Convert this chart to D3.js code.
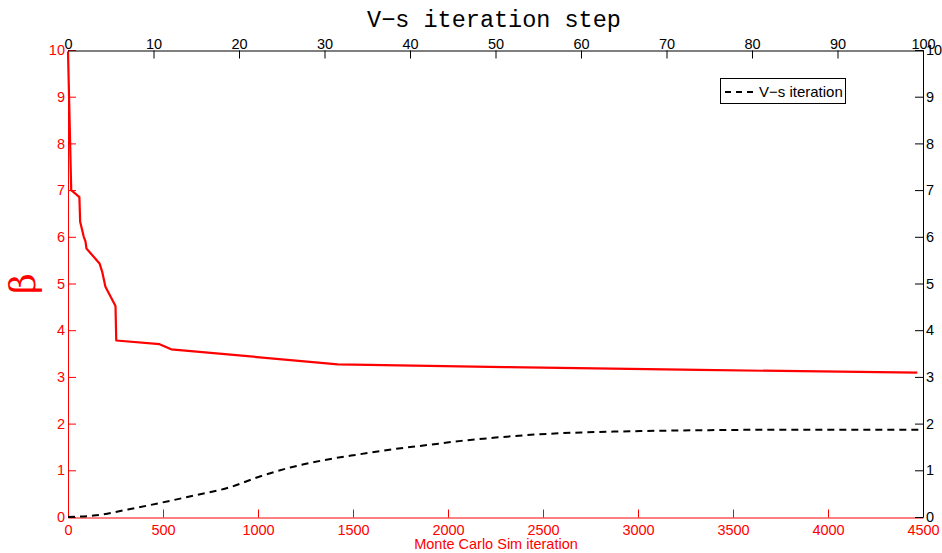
<!DOCTYPE html>
<html>
<head>
<meta charset="utf-8">
<script src="https://cdn.jsdelivr.net/npm/d3@7"></script>
<style>
  html, body { margin: 0; padding: 0; background: #fff; }
  svg { display: block; }
  text { font-family: "Liberation Sans", Arial, sans-serif; }
</style>
</head>
<body>
<svg id="chart" width="942" height="553"></svg>
<script>
// ---- data ----
const mcIter = [0, 17, 60, 64, 83, 92, 97, 166, 180, 197, 250, 254, 482, 543, 1420, 2300, 3320, 4470];
const betaMC = [9.97, 7.0, 6.85, 6.32, 6.0, 5.9, 5.75, 5.43, 5.25, 4.93, 4.52, 3.78, 3.70, 3.59, 3.27, 3.21, 3.15, 3.09];

const vsStep = [0, 3, 7, 11, 15, 19, 22, 26, 30, 34, 38, 42, 46, 50, 55, 60, 67, 75, 85, 100];
const vsVal  = [0, 0.03, 0.16, 0.31, 0.47, 0.64, 0.84, 1.06, 1.22, 1.34, 1.45, 1.54, 1.63, 1.70, 1.77, 1.81, 1.84, 1.86, 1.87, 1.87];

const bottomTicks = [0, 500, 1000, 1500, 2000, 2500, 3000, 3500, 4000, 4500];
const topTicks = [0, 10, 20, 30, 40, 50, 60, 70, 80, 90, 100];
const yTicks = [0, 1, 2, 3, 4, 5, 6, 7, 8, 9, 10];

const legendLabel = "V\u2212s iteration";
const topTitle = "V\u2212s iteration step";
const bottomTitle = "Monte Carlo Sim iteration";
const yTitle = "\u03b2";

// ---- layout ----
const L = 68, R = 923, T = 50, B = 517;
const svg = d3.select("#chart");

const xMC = d3.scaleLinear().domain([0, 4500]).range([L, R]);
const xVS = d3.scaleLinear().domain([0, 100]).range([L, R]);
const y = d3.scaleLinear().domain([0, 10]).range([B, T]);

const RED = "#ff0000";
const FS = 14.5;
const fmt = d3.format("d");

function styleText(g, color) {
  g.selectAll("text").attr("fill", color)
    .style("font-size", FS + "px")
    .style("font-family", "Liberation Sans, Arial, sans-serif");
}

// bottom axis (red)
const gB = svg.append("g").attr("transform", `translate(0,${B + 0.5})`)
  .call(d3.axisBottom(xMC).tickValues(bottomTicks).tickFormat(fmt).tickSizeInner(-8).tickSizeOuter(0).tickPadding(7));
gB.selectAll("path,line").attr("stroke", RED);
styleText(gB, RED);

// left axis (red)
const gL = svg.append("g").attr("transform", `translate(${L},0)`)
  .call(d3.axisLeft(y).tickValues(yTicks).tickFormat(fmt).tickSizeInner(-8).tickSizeOuter(0).tickPadding(3));
gL.selectAll("path,line").attr("stroke", RED);
styleText(gL, RED);

// top axis (black)
const gT = svg.append("g").attr("transform", `translate(0,${T + 0.5})`)
  .call(d3.axisTop(xVS).tickValues(topTicks).tickFormat(fmt).tickSizeInner(-8).tickSizeOuter(0).tickPadding(2));
gT.selectAll("path,line").attr("stroke", "#000");
styleText(gT, "#000");

// right axis (black)
const gR = svg.append("g").attr("transform", `translate(${R},0)`)
  .call(d3.axisRight(y).tickValues(yTicks).tickFormat(fmt).tickSizeInner(-8).tickSizeOuter(0).tickPadding(3));
gR.selectAll("path,line").attr("stroke", "#000");
styleText(gR, "#000");

// red curve (Monte Carlo)
const mcData = mcIter.map((d, i) => [d, betaMC[i]]);
svg.append("path")
  .datum(mcData)
  .attr("fill", "none")
  .attr("stroke", RED)
  .attr("stroke-width", 2.2)
  .attr("stroke-linejoin", "round")
  .attr("d", d3.line().x(d => xMC(d[0])).y(d => y(d[1])));

// dashed curve (V-s iteration)
const vsData = vsStep.map((d, i) => [d, vsVal[i]]);
svg.append("path")
  .datum(vsData)
  .attr("fill", "none")
  .attr("stroke", "#000")
  .attr("stroke-width", 2)
  .attr("stroke-dasharray", "7,5")
  .attr("d", d3.line().curve(d3.curveMonotoneX).x(d => xVS(d[0])).y(d => y(d[1])));

// titles
svg.append("text")
  .attr("x", 494).attr("y", 27)
  .attr("text-anchor", "middle")
  .style("font-family", "'Liberation Mono', 'Courier New', monospace")
  .style("font-size", "23.5px")
  .attr("fill", "#000")
  .text(topTitle);

svg.append("text")
  .attr("x", 496).attr("y", 549)
  .attr("text-anchor", "middle")
  .style("font-size", "14.5px")
  .attr("fill", RED)
  .text(bottomTitle);

svg.append("text")
  .attr("transform", `translate(35,${(T + B) / 2}) rotate(-90)`)
  .attr("text-anchor", "middle")
  .style("font-family", "'DejaVu Serif', 'Liberation Serif', serif")
  .style("font-size", "36px")
  .attr("fill", RED)
  .text(yTitle);

// legend
const lg = svg.append("g");
lg.append("rect")
  .attr("x", 720.5).attr("y", 78.5).attr("width", 125).attr("height", 25)
  .attr("fill", "#fff").attr("stroke", "#000").attr("stroke-width", 1);
lg.append("line")
  .attr("x1", 725).attr("x2", 756).attr("y1", 92).attr("y2", 92)
  .attr("stroke", "#000").attr("stroke-width", 2).attr("stroke-dasharray", "6,5");
lg.append("text")
  .attr("x", 759).attr("y", 96.5)
  .style("font-size", "15px")
  .attr("fill", "#000")
  .text(legendLabel);
</script>
</body>
</html>
